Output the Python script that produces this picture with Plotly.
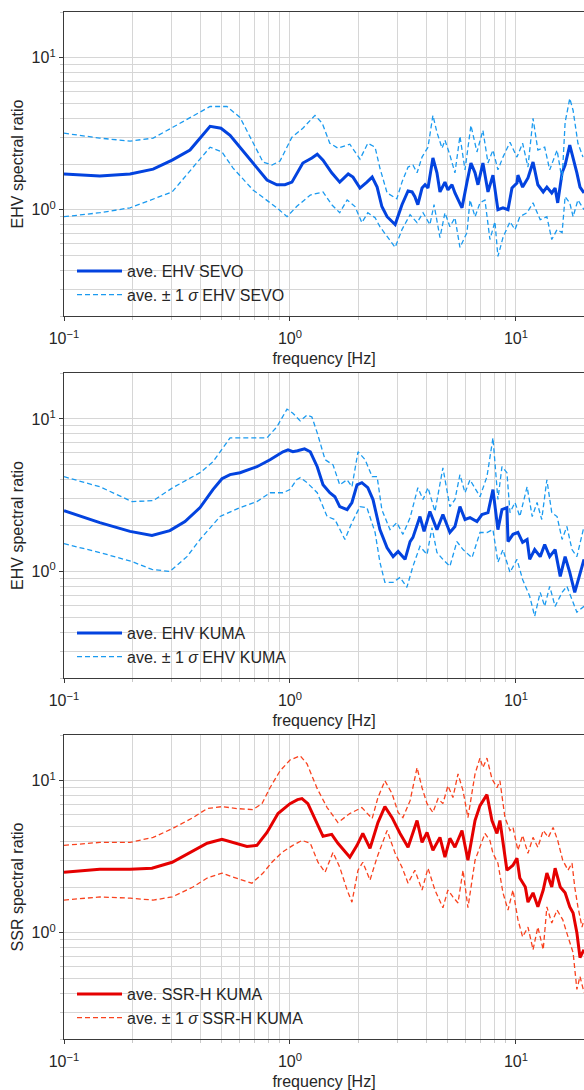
import math
import plotly.graph_objects as go

# ---------------- data (frequency [Hz], spectral ratio) ----------------
# Panel 1 : EHV SEVO
sevo_ave_f = [0.1, 0.144, 0.196, 0.248, 0.301, 0.361, 0.443, 0.495, 0.543, 0.791, 0.875, 0.95, 1.02, 1.14, 1.25,
              1.32, 1.40, 1.53, 1.66, 1.81, 1.90, 2.04, 2.19, 2.31, 2.43, 2.55, 2.69, 2.92, 3.13, 3.33, 3.47, 3.57,
              3.68, 3.84, 3.96, 4.08, 4.29, 4.47, 4.61, 4.85, 5.00, 5.21, 5.37, 5.77, 6.07, 6.32, 6.59, 6.79, 7.14,
              7.52, 7.91, 8.32, 8.76, 9.22, 9.60, 10.1, 10.2, 10.7, 11.3, 11.9, 12.5, 13.2, 13.7, 14.4, 14.9, 15.3,
              16.0, 16.5, 17.3, 17.9, 18.6, 19.2, 20.0]
sevo_ave = [1.72, 1.67, 1.72, 1.85, 2.12, 2.47, 3.54, 3.44, 3.09, 1.57, 1.46, 1.46, 1.52, 2.03, 2.19, 2.32, 2.12,
            1.75, 1.52, 1.72, 1.64, 1.39, 1.52, 1.64, 1.41, 1.05, 0.90, 0.80, 1.08, 1.33, 1.31, 1.22, 1.08, 1.39,
            1.46, 1.39, 2.19, 1.75, 1.31, 1.52, 1.35, 1.46, 1.29, 1.03, 1.52, 2.03, 1.75, 1.46, 2.03, 1.31, 1.69,
            1.0, 1.03, 1.0, 1.39, 1.50, 1.69, 1.41, 1.62, 2.06, 1.46, 1.31, 1.41, 1.29, 1.39, 1.11, 1.75, 1.97,
            2.66, 2.22, 1.75, 1.41, 1.29]
sevo_up_f = [0.1, 0.144, 0.196, 0.248, 0.303, 0.443, 0.526, 0.601, 0.760, 0.832, 0.903, 1.02, 1.14, 1.29, 1.39,
             1.50, 1.63, 1.75, 1.84, 2.04, 2.21, 2.38, 2.50, 2.69, 2.97, 3.13, 3.33, 3.50, 3.65, 3.84, 4.08, 4.29,
             4.47, 4.71, 4.85, 5.10, 5.37, 5.65, 5.95, 6.32, 6.72, 7.14, 7.52, 7.91, 8.32, 8.76, 9.41, 10.1, 10.7,
             11.3, 11.9, 12.5, 13.4, 14.1, 15.2, 16.0, 16.5, 17.3, 17.9, 18.8, 19.8]
sevo_up = [3.19, 2.96, 2.83, 2.96, 3.49, 4.78, 4.78, 4.05, 2.06, 1.97, 2.09, 3.00, 3.44, 4.18, 3.70, 2.74, 2.54,
           2.62, 2.70, 2.15, 2.74, 2.58, 1.88, 1.29, 1.18, 1.52, 1.91, 1.97, 1.75, 2.22, 2.58, 4.18, 3.23, 2.54,
           2.87, 2.29, 1.75, 3.05, 1.83, 3.59, 2.40, 3.33, 2.03, 2.47, 1.83, 2.22, 2.78, 2.22, 2.74, 1.91, 3.99,
           2.47, 2.58, 1.83, 2.47, 1.57, 3.76, 5.40, 4.50, 2.74, 2.22]
sevo_lo_f = [0.1, 0.144, 0.196, 0.301, 0.443, 0.500, 0.560, 0.686, 0.875, 0.970, 1.07, 1.23, 1.40, 1.53, 1.66,
             1.79, 1.94, 2.08, 2.21, 2.38, 2.50, 2.69, 2.92, 3.13, 3.40, 3.65, 3.88, 4.16, 4.34, 4.61, 4.85, 5.10,
             5.37, 5.65, 6.07, 6.26, 6.59, 6.93, 7.29, 7.67, 8.07, 8.32, 8.76, 9.41, 9.90, 10.4, 11.2, 11.9, 12.8,
             13.7, 14.4, 15.2, 16.0, 16.5, 17.3, 17.9, 18.8, 20.0]
sevo_lo = [0.90, 0.956, 1.03, 1.31, 2.58, 2.40, 1.88, 1.35, 1.03, 0.90, 1.05, 1.25, 1.31, 1.08, 0.956, 1.16, 1.05,
           0.822, 0.956, 0.886, 0.774, 0.666, 0.565, 0.740, 0.928, 0.822, 0.956, 0.798, 1.08, 0.656, 0.956, 0.774,
           0.886, 0.565, 0.708, 1.16, 0.90, 1.11, 1.16, 0.637, 0.835, 0.493, 0.656, 0.835, 0.740, 0.90, 0.956,
           1.11, 0.86, 0.90, 0.637, 0.740, 0.708, 1.22, 1.11, 0.90, 1.16, 1.0]

# Panel 2 : EHV KUMA
kuma_ave_f = [0.1, 0.144, 0.196, 0.245, 0.294, 0.343, 0.400, 0.456, 0.500, 0.543, 0.601, 0.714, 0.816, 0.931,
              0.980, 1.03, 1.08, 1.16, 1.23, 1.32, 1.40, 1.50, 1.58, 1.66, 1.79, 1.88, 1.98, 2.08, 2.21, 2.33, 2.50,
              2.69, 2.86, 3.01, 3.23, 3.40, 3.50, 3.76, 3.92, 4.16, 4.47, 4.75, 5.10, 5.37, 5.65, 5.95, 6.26, 6.72,
              7.07, 7.52, 7.91, 8.32, 8.67, 9.12, 9.22, 9.70, 10.2, 10.7, 11.2, 11.5, 12.1, 12.8, 13.4, 14.1, 14.9,
              15.7, 16.5, 17.3, 18.2, 19.2, 20.0]
kuma_ave = [2.50, 2.09, 1.83, 1.72, 1.85, 2.12, 2.62, 3.44, 4.05, 4.31, 4.44, 4.86, 5.40, 6.09, 6.27, 6.09, 6.18,
            6.36, 6.09, 4.86, 3.70, 3.28, 3.09, 2.66, 2.54, 2.83, 3.70, 3.82, 3.54, 2.96, 1.88, 1.43, 1.25, 1.35,
            1.20, 1.57, 1.67, 2.29, 1.83, 2.47, 1.88, 2.36, 1.80, 1.97, 2.66, 2.19, 2.25, 2.12, 2.36, 2.43, 3.44,
            1.88, 2.54, 2.62, 1.57, 1.75, 1.80, 1.55, 1.62, 1.20, 1.39, 1.25, 1.50, 1.25, 1.39, 0.928, 1.25, 0.985,
            0.729, 0.985, 1.20]
kuma_up_f = [0.1, 0.144, 0.200, 0.248, 0.303, 0.400, 0.456, 0.543, 0.665, 0.791, 0.875, 0.970, 1.03, 1.05, 1.11,
             1.19, 1.25, 1.32, 1.43, 1.55, 1.66, 1.79, 1.88, 2.00, 2.15, 2.31, 2.43, 2.55, 2.77, 2.97, 3.16, 3.40,
             3.50, 3.68, 3.88, 4.08, 4.38, 4.75, 5.10, 5.37, 5.65, 5.95, 6.26, 6.59, 6.93, 7.44, 7.91, 8.32, 8.67,
             9.12, 9.41, 9.90, 10.4, 11.2, 11.8, 12.4, 13.0, 13.7, 14.4, 15.2, 16.0, 16.8, 17.7, 18.6, 20.0]
kuma_up = [4.18, 3.59, 2.87, 2.91, 3.54, 4.44, 5.23, 7.51, 7.51, 7.51, 8.87, 11.6, 10.9, 10.6, 9.71, 10.6, 10.3,
           8.10, 5.40, 5.00, 3.70, 3.99, 3.59, 6.09, 5.40, 4.18, 4.18, 2.54, 1.88, 2.09, 1.75, 2.25, 2.62, 3.54,
           2.96, 3.54, 2.47, 4.78, 2.66, 2.96, 4.31, 3.28, 3.99, 3.54, 3.09, 4.18, 7.51, 2.96, 4.86, 4.44, 2.43,
           2.83, 2.29, 3.59, 2.29, 2.83, 2.19, 3.99, 2.43, 2.29, 1.62, 1.97, 1.39, 1.25, 1.97]
kuma_lo_f = [0.1, 0.144, 0.200, 0.245, 0.294, 0.350, 0.400, 0.490, 0.601, 0.714, 0.816, 0.931, 1.0, 1.07, 1.11,
             1.19, 1.32, 1.46, 1.58, 1.75, 1.88, 2.04, 2.19, 2.38, 2.50, 2.63, 2.86, 3.07, 3.29, 3.50, 3.76, 4.04,
             4.25, 4.47, 4.75, 5.10, 5.48, 5.83, 6.39, 6.93, 7.44, 7.91, 8.32, 8.76, 9.41, 10.1, 10.7, 11.5, 12.1,
             12.8, 13.4, 14.1, 14.9, 16.0, 16.8, 17.7, 18.6, 20.0]
kuma_lo = [1.52, 1.33, 1.16, 1.03, 1.0, 1.25, 1.62, 2.29, 2.62, 2.87, 3.28, 3.28, 3.44, 3.99, 4.12, 3.82, 3.28,
           2.29, 2.19, 1.62, 2.09, 2.66, 2.62, 1.80, 1.15, 0.847, 0.847, 0.914, 0.786, 1.08, 1.46, 1.29, 1.94, 1.33,
           1.20, 1.08, 1.57, 1.39, 1.23, 1.80, 1.80, 1.88, 1.15, 1.39, 0.985, 1.20, 0.886, 0.687, 0.508, 0.729,
           0.590, 0.798, 0.590, 0.729, 0.798, 0.656, 0.540, 0.590]

# Panel 3 : SSR-H KUMA
ssr_ave_f = [0.1, 0.144, 0.196, 0.245, 0.301, 0.361, 0.430, 0.500, 0.560, 0.645, 0.714, 0.791, 0.885, 1.0, 1.08,
             1.13, 1.20, 1.32, 1.40, 1.53, 1.63, 1.84, 1.98, 2.10, 2.26, 2.45, 2.63, 2.83, 3.07, 3.33, 3.65, 3.84,
             4.04, 4.29, 4.61, 4.85, 5.10, 5.37, 5.77, 6.13, 6.59, 6.93, 7.44, 7.83, 8.24, 8.49, 9.12, 9.70, 10.1,
             10.4, 11.0, 11.3, 11.9, 12.5, 13.2, 13.7, 14.4, 14.9, 15.7, 16.5, 17.3, 17.9, 18.6, 19.2, 20.0]
ssr_ave = [2.50, 2.62, 2.62, 2.66, 2.91, 3.38, 3.88, 4.12, 3.93, 3.70, 3.76, 4.57, 6.09, 7.07, 7.51, 7.63, 7.07,
           5.23, 4.31, 4.44, 3.88, 3.14, 3.76, 4.50, 3.59, 5.31, 6.76, 5.72, 4.50, 3.65, 5.48, 3.93, 4.57, 3.49,
           4.24, 3.14, 4.18, 3.65, 4.71, 3.00, 5.48, 6.86, 8.10, 5.48, 4.50, 5.48, 2.58, 2.78, 3.09, 2.29, 2.00,
           1.59, 1.83, 1.48, 1.91, 2.47, 2.00, 2.66, 2.00, 1.83, 1.48, 1.35, 1.0, 0.687, 0.774]
ssr_up_f = [0.1, 0.144, 0.196, 0.248, 0.303, 0.372, 0.430, 0.500, 0.583, 0.686, 0.752, 0.816, 0.903, 1.0, 1.11,
            1.19, 1.32, 1.46, 1.63, 1.84, 2.08, 2.31, 2.45, 2.63, 2.83, 3.01, 3.16, 3.40, 3.65, 3.84, 4.04, 4.29,
            4.52, 4.75, 5.00, 5.26, 5.54, 5.83, 6.13, 6.59, 6.93, 7.14, 7.44, 7.83, 8.24, 8.49, 8.94, 9.41, 9.70,
            10.2, 10.7, 11.3, 11.9, 12.5, 13.2, 13.9, 14.6, 15.3, 16.1, 17.0, 17.7, 18.2, 18.8, 19.6, 20.0]
ssr_up = [3.76, 3.93, 3.93, 4.24, 4.86, 5.72, 6.56, 6.76, 6.56, 6.46, 7.07, 9.00, 11.6, 13.7, 14.6, 12.9, 8.87,
          6.66, 5.31, 6.09, 6.66, 5.64, 7.75, 10.0, 8.22, 6.18, 5.72, 7.40, 12.2, 9.00, 7.07, 6.18, 7.63, 7.07,
          9.28, 7.75, 11.1, 8.61, 5.72, 11.1, 14.1, 12.2, 14.1, 10.3, 9.00, 10.0, 5.72, 4.71, 4.93, 3.49, 4.37,
          3.33, 4.24, 3.65, 4.71, 4.24, 4.93, 4.05, 3.00, 2.58, 2.87, 2.00, 1.48, 1.09, 1.22]
ssr_lo_f = [0.1, 0.144, 0.196, 0.248, 0.301, 0.372, 0.430, 0.500, 0.560, 0.679, 0.760, 0.832, 0.922, 1.03, 1.13,
            1.23, 1.33, 1.43, 1.55, 1.66, 1.79, 1.88, 2.00, 2.10, 2.26, 2.43, 2.69, 2.92, 3.13, 3.33, 3.57, 3.84,
            4.08, 4.38, 4.75, 5.00, 5.26, 5.54, 5.83, 6.13, 6.59, 6.93, 7.29, 7.67, 7.91, 8.32, 8.76, 9.22, 9.70,
            10.2, 10.7, 11.3, 11.9, 12.5, 13.2, 13.7, 14.4, 15.2, 16.1, 17.0, 17.9, 18.6, 19.2, 20.0]
ssr_lo = [1.64, 1.72, 1.69, 1.64, 1.72, 2.00, 2.29, 2.47, 2.32, 2.12, 2.47, 2.91, 3.38, 3.76, 4.05, 3.88, 2.91,
          2.50, 3.38, 2.70, 1.91, 1.59, 2.58, 2.91, 2.22, 3.14, 4.71, 3.33, 2.70, 2.12, 2.58, 1.91, 2.66, 1.91,
          1.46, 1.91, 1.72, 1.57, 2.58, 1.46, 3.00, 3.65, 4.50, 4.05, 3.33, 2.87, 1.83, 1.41, 1.91, 1.22, 0.94,
          1.09, 0.774, 1.09, 0.774, 1.48, 1.16, 1.41, 1.22, 0.94, 0.740, 0.424, 0.516, 0.405]

x_tick_vals = [0.1, 1, 10]
x_tick_text = ["10<sup>\u22121</sup>", "10<sup>0</sup>", "10<sup>1</sup>"]
y_tick_vals = [1, 10]
y_tick_text = ["10<sup>0</sup>", "10<sup>1</sup>"]

panels = [
    dict(name="EHV SEVO", ylabel="EHV spectral ratio",
         ave=(sevo_ave_f, sevo_ave), up=(sevo_up_f, sevo_up), lo=(sevo_lo_f, sevo_lo),
         c_solid="#0343df", c_dash="#1a9af0"),
    dict(name="EHV KUMA", ylabel="EHV spectral ratio",
         ave=(kuma_ave_f, kuma_ave), up=(kuma_up_f, kuma_up), lo=(kuma_lo_f, kuma_lo),
         c_solid="#0343df", c_dash="#1a9af0"),
    dict(name="SSR-H KUMA", ylabel="SSR spectral ratio",
         ave=(ssr_ave_f, ssr_ave), up=(ssr_up_f, ssr_up), lo=(ssr_lo_f, ssr_lo),
         c_solid="#e50000", c_dash="#f9421e"),
]

# ---------------- layout geometry ----------------
W, H = 584, 1090
ML, MR, MT, MB = 64, 0, 12, 51
plot_h = H - MT - MB
panel_px = [(12, 316), (373, 678), (735, 1039)]   # top, bottom in pixels


def yfrac(py):
    return (H - MB - py) / plot_h


minor_x = [m * 10 ** e for e in (-1, 0, 1) for m in range(2, 10)]
minor_y = [m * 10 ** e for e in (-1, 0, 1) for m in range(2, 10)]

TXT = "#262626"
GRID = "#d6d6d6"
SPINE = "#3a3a3a"
FONT = "Liberation Sans, Arial, sans-serif"

fig = go.Figure()
layout = dict(width=W, height=H, margin=dict(l=ML, r=MR, t=MT, b=MB),
              paper_bgcolor="white", plot_bgcolor="white",
              font=dict(family=FONT, size=16, color=TXT), showlegend=True)

for i, p in enumerate(panels):
    k = "" if i == 0 else str(i + 1)
    xa, ya = "x" + k, "y" + k
    lg = "legend" + k
    sigma_name = "ave. \u00b1 1 <i>\u03c3</i> " + p["name"]
    fig.add_trace(go.Scatter(x=p["ave"][0], y=p["ave"][1], mode="lines", xaxis=xa, yaxis=ya,
                             name="ave. " + p["name"], legend=lg,
                             line=dict(color=p["c_solid"], width=3)))
    fig.add_trace(go.Scatter(x=p["up"][0], y=p["up"][1], mode="lines", xaxis=xa, yaxis=ya,
                             name=sigma_name, legend=lg, legendgroup="s" + k,
                             line=dict(color=p["c_dash"], width=1.3, dash="5px,3px")))
    fig.add_trace(go.Scatter(x=p["lo"][0], y=p["lo"][1], mode="lines", xaxis=xa, yaxis=ya,
                             name=sigma_name, legend=lg, legendgroup="s" + k, showlegend=False,
                             line=dict(color=p["c_dash"], width=1.3, dash="5px,3px")))

    top, bot = panel_px[i]
    layout["xaxis" + k] = dict(
        type="log", range=[-1, math.log10(20)], domain=[0, 1], anchor=ya,
        showline=True, linecolor=SPINE, linewidth=1.3, mirror=True,
        tickmode="array", tickvals=x_tick_vals, ticktext=x_tick_text,
        ticks="outside", ticklen=4, tickcolor=SPINE, tickwidth=1, ticklabelstandoff=4,
        tickfont=dict(size=16, color=TXT),
        showgrid=True, gridcolor=GRID, gridwidth=1, zeroline=False,
        minor=dict(tickmode="array", tickvals=minor_x, showgrid=True, gridcolor=GRID, gridwidth=1,
                   ticks="outside", ticklen=3, tickcolor="#c8c8c8"),
        title=dict(text="frequency [Hz]", font=dict(size=16, color=TXT), standoff=6),
    )
    layout["yaxis" + k] = dict(
        type="log", range=[math.log10(0.2), math.log10(20)], domain=[yfrac(bot), yfrac(top)], anchor=xa,
        showline=True, linecolor=SPINE, linewidth=1.3, mirror=False,
        tickmode="array", tickvals=y_tick_vals, ticktext=y_tick_text,
        ticks="outside", ticklen=4, tickcolor=SPINE, tickwidth=1,
        tickfont=dict(size=16, color=TXT),
        showgrid=True, gridcolor=GRID, gridwidth=1, zeroline=False,
        minor=dict(tickmode="array", tickvals=minor_y, showgrid=True, gridcolor=GRID, gridwidth=1,
                   ticks="outside", ticklen=3, tickcolor="#c8c8c8"),
        title=dict(text=p["ylabel"], font=dict(size=16, color=TXT), standoff=4),
    )
    layout[lg] = dict(x=(72 - ML) / (W - ML - MR), xanchor="left",
                      y=yfrac(bot - 4), yanchor="bottom", itemwidth=45,
                      bgcolor="rgba(0,0,0,0)", borderwidth=0,
                      font=dict(size=16, color=TXT), tracegroupgap=0)

fig.update_layout(**layout)
fig.write_html("out.html")
